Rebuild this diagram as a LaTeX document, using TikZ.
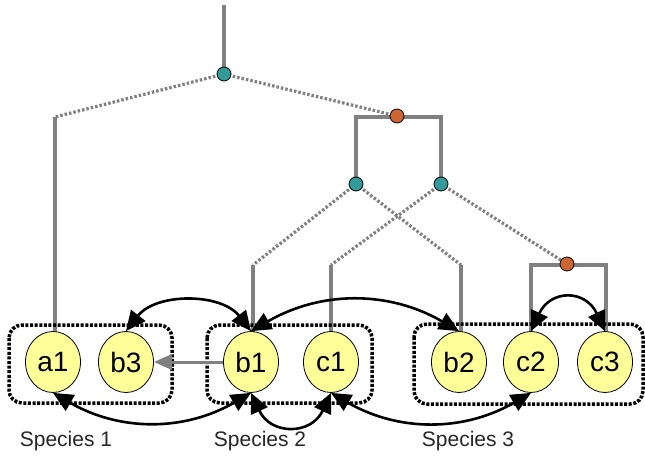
\documentclass[tikz,border=0pt]{standalone}
\usepackage{fontspec}
\setmainfont{Liberation Sans}
\usetikzlibrary{arrows.meta,shapes.geometric,backgrounds}
\definecolor{nodefill}{RGB}{255,255,153}
\definecolor{teal}{RGB}{51,153,153}
\definecolor{rust}{RGB}{204,102,51}
\definecolor{branch}{RGB}{128,128,128}
\begin{document}
\begin{tikzpicture}[x=1pt,y=1pt,
  gene/.style={ellipse,draw=black,line width=0.8pt,fill=nodefill,
    minimum width=55pt,minimum height=61pt,inner sep=0pt,font=\fontsize{28}{28}\selectfont},
  solidbr/.style={draw=branch,line width=3.2pt},
  lossbr/.style={draw=branch,line width=3.2pt,dash pattern=on 2.5pt off 2pt},
  spec/.style={circle,draw=black,line width=0.8pt,fill=teal,minimum size=14pt,inner sep=0pt},
  dup/.style={circle,draw=black,line width=0.8pt,fill=rust,minimum size=14pt,inner sep=0pt},
  species/.style={draw=black,line width=3.5pt,dash pattern=on 3pt off 1.6pt,rounded corners=13pt},
  link/.style={draw=black,line width=2.6pt,{Triangle[length=20pt,width=18pt]}-{Triangle[length=20pt,width=18pt]}},
  label/.style={font=\fontsize{21}{21}\selectfont,text=black!85}]
\useasboundingbox (0,0) rectangle (645,-455);

% gene nodes
\node[gene] (a1) at (53,-362) {a1};
\node[gene] (b3) at (126,-362) {b3};
\node[gene] (b1) at (251,-362) {b1};
\node[gene] (c1) at (331,-362) {c1};
\node[gene] (b2) at (459,-362) {b2};
\node[gene] (c2) at (531,-362) {c2};
\node[gene] (c3) at (605,-362) {c3};

% tree joints
\coordinate (top) at (224,-5);
\coordinate (ka) at (55,-117);
\coordinate (hl) at (356,-117);
\coordinate (hr) at (441,-117);
\coordinate (kb1) at (253,-265);
\coordinate (kc1) at (331,-265);
\coordinate (kb2) at (461,-265);
\coordinate (hc2) at (531,-265);
\coordinate (hc3) at (606,-265);
\coordinate (ta) at (55,-332);
\coordinate (tb1) at (253,-332);
\coordinate (tc1) at (331,-332);
\coordinate (tb2) at (461,-332);
\coordinate (tc2) at (531,-332);
\coordinate (tc3) at (606,-332);

% event markers (speciation: teal, duplication: rust)
\node[spec] (s0) at (224,-74) {};
\node[dup]  (d0) at (397,-116) {};
\node[spec] (s1) at (356,-184) {};
\node[spec] (s2) at (441,-184) {};
\node[dup]  (d1) at (567,-264) {};

\begin{scope}[on background layer]
  % branches
  \draw[solidbr] (top) -- (s0.center);
  \draw[lossbr] (s0.center) -- (ka);
  \draw[solidbr] (ka) -- (ta);
  \draw[lossbr] (s0.center) -- (d0.center);
  \draw[solidbr] (s1.center) -- (hl) -- (hr) -- (s2.center);
  \draw[lossbr] (s1.center) -- (kb1);
  \draw[solidbr] (kb1) -- (tb1);
  \draw[lossbr] (s1.center) -- (kb2);
  \draw[solidbr] (kb2) -- (tb2);
  \draw[lossbr] (s2.center) -- (kc1);
  \draw[solidbr] (kc1) -- (tc1);
  \draw[lossbr] (s2.center) -- (d1.center);
  \draw[solidbr] (tc2) -- (hc2) -- (hc3) -- (tc3);
  % species boxes
  \draw[species] (9,-325) rectangle (172,-403);
  \draw[species] (207,-325) rectangle (372,-403);
  \draw[species] (414,-324) rectangle (643,-404);
\end{scope}

% transfer
\draw[draw=branch,line width=3pt,-{Triangle[length=18pt,width=15pt]}] (b1.west) -- (b3.east);

% relations
\draw[link] (b3.north) to[bend left=52] (b1.north);
\draw[link] (b1.north) to[bend left=30] (b2.north);
\draw[link] (c2.north) to[out=65,in=115,looseness=1.6] (c3.north);
\draw[link] (a1.south) to[bend right=30] (b1.south);
\draw[link] (b1.south) to[out=-65,in=-115,looseness=1.5] (c1.south);
\draw[link] (c1.south) to[bend right=30] (c2.south);

% species labels
\node[label] (sp1) at (66,-441) {Species 1};
\node[label] (sp2) at (260,-441) {Species 2};
\node[label] (sp3) at (468,-441) {Species 3};
\end{tikzpicture}
\end{document}
